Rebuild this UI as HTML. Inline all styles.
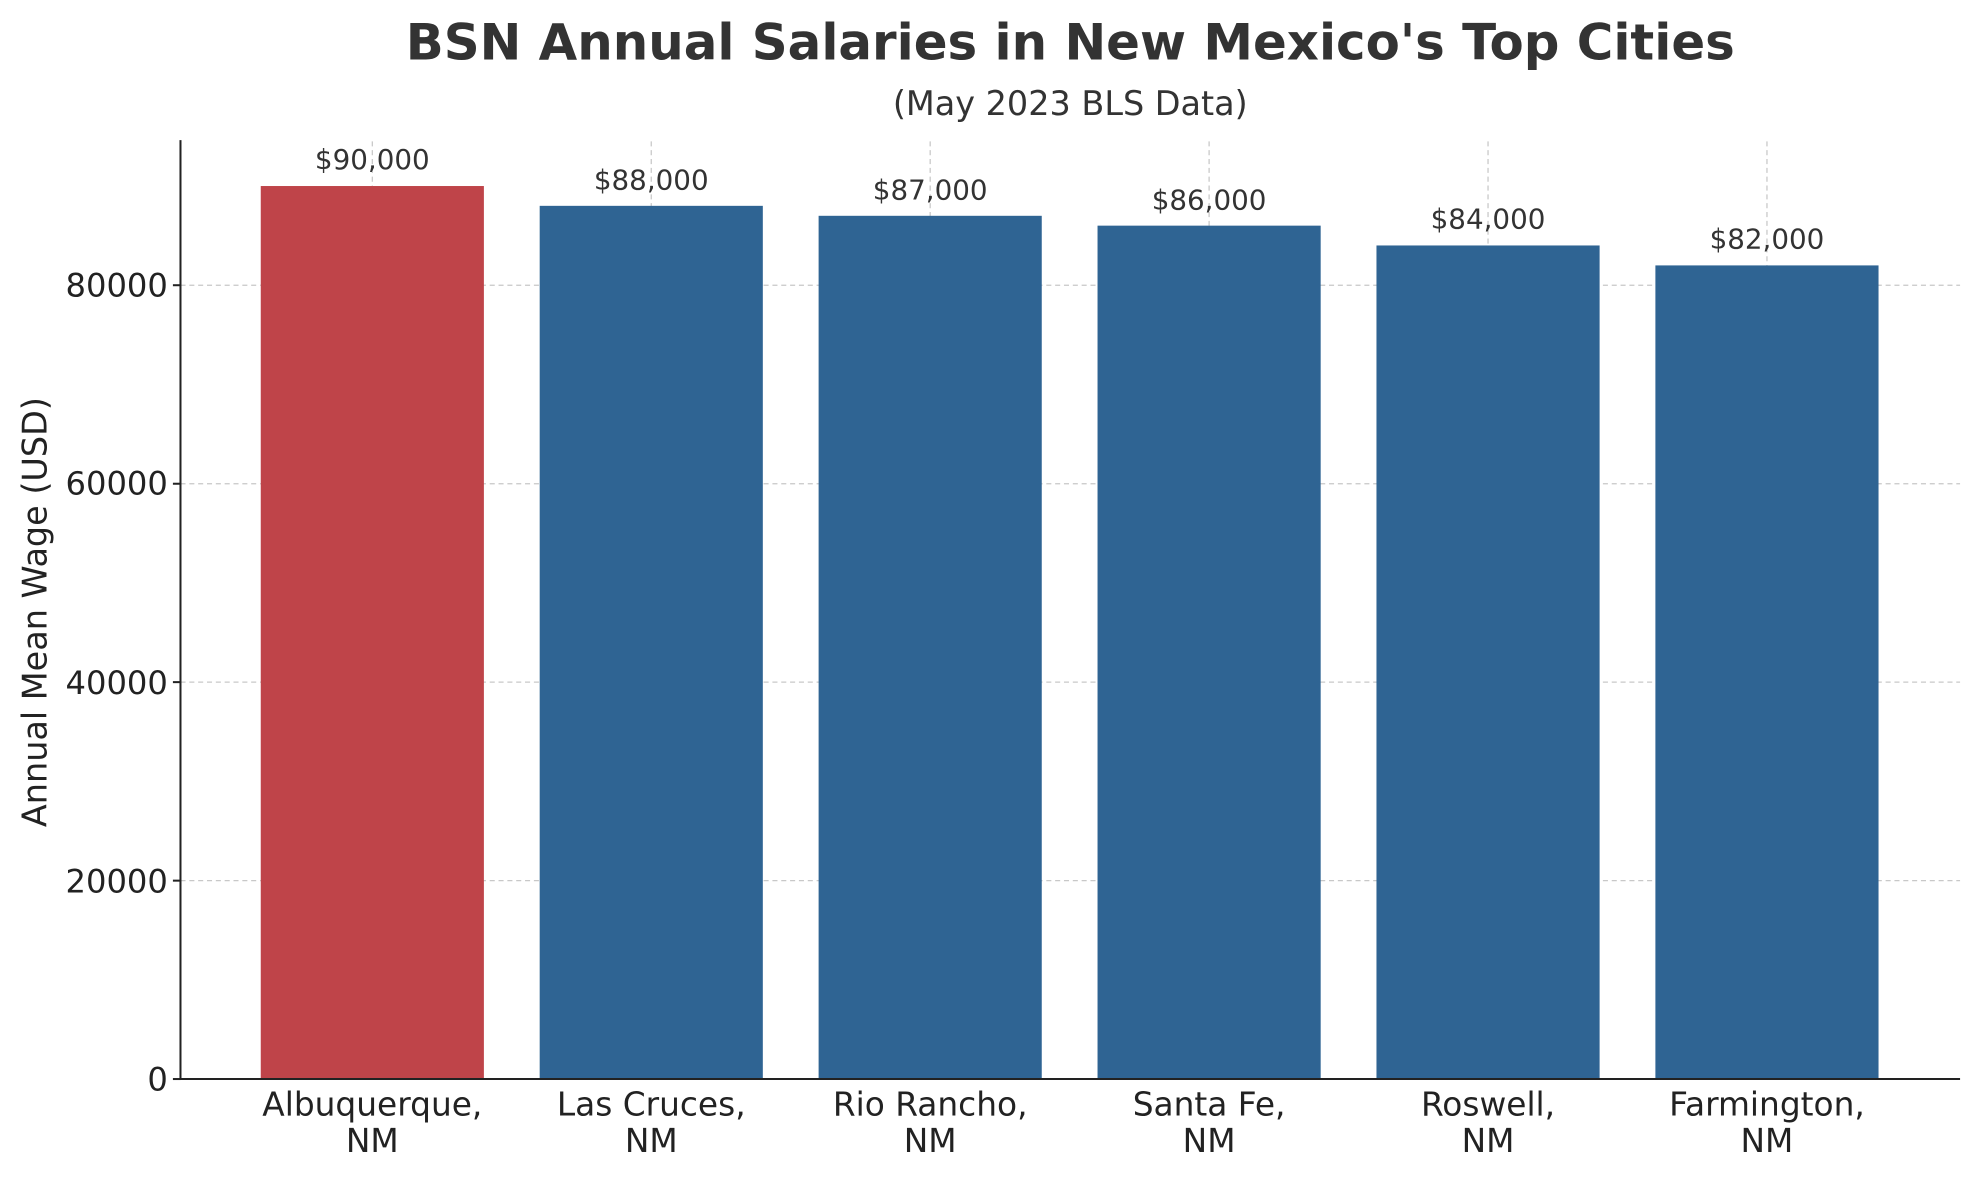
<!DOCTYPE html>
<html><head><meta charset="utf-8"><style>html,body{margin:0;padding:0;background:#fff}svg{display:block}</style></head>
<body>
<svg width="1979" height="1180" viewBox="0 0 1568 935" preserveAspectRatio="none" xmlns="http://www.w3.org/2000/svg" font-family="DejaVu Sans, Liberation Sans, sans-serif">
<rect width="1568" height="935" fill="#fff"/>
<g stroke="#c8c8c8" stroke-width="1" stroke-dasharray="4,3">
<line x1="143" x2="1553" y1="226" y2="226"/>
<line x1="143" x2="1553" y1="383.3" y2="383.3"/>
<line x1="143" x2="1553" y1="540.5" y2="540.5"/>
<line x1="143" x2="1553" y1="697.8" y2="697.8"/>
<line x1="295" x2="295" y1="112" y2="855"/>
<line x1="516" x2="516" y1="112" y2="855"/>
<line x1="737" x2="737" y1="112" y2="855"/>
<line x1="958" x2="958" y1="112" y2="855"/>
<line x1="1179" x2="1179" y1="112" y2="855"/>
<line x1="1400" x2="1400" y1="112" y2="855"/>
</g>
<rect x="206.6" y="147.4" width="176.8" height="707.6" fill="#bf4449"/>
<rect x="427.6" y="163.1" width="176.8" height="691.9" fill="#2f6493"/>
<rect x="648.6" y="171" width="176.8" height="684" fill="#2f6493"/>
<rect x="869.6" y="178.8" width="176.8" height="676.2" fill="#2f6493"/>
<rect x="1090.6" y="194.5" width="176.8" height="660.5" fill="#2f6493"/>
<rect x="1311.6" y="210.3" width="176.8" height="644.7" fill="#2f6493"/>
<g fill="#333" font-size="22" text-anchor="middle">
<text x="295" y="134">$90,000</text>
<text x="516" y="150">$88,000</text>
<text x="737" y="158">$87,000</text>
<text x="958" y="166">$86,000</text>
<text x="1179" y="181">$84,000</text>
<text x="1400" y="197">$82,000</text>
</g>
<line x1="143" x2="143" y1="111" y2="855.5" stroke="#222" stroke-width="1.6"/>
<line x1="142" x2="1553" y1="855" y2="855" stroke="#222" stroke-width="1.6"/>
<g stroke="#222" stroke-width="1.6">
<line x1="137" x2="143" y1="855" y2="855"/><line x1="137" x2="143" y1="697.8" y2="697.8"/>
<line x1="137" x2="143" y1="540.5" y2="540.5"/><line x1="137" x2="143" y1="383.3" y2="383.3"/>
<line x1="137" x2="143" y1="226" y2="226"/>
</g>
<g fill="#222" font-size="25.5" text-anchor="end">
<text x="133" y="864">0</text>
<text x="133" y="707">20000</text>
<text x="133" y="550">40000</text>
<text x="133" y="392">60000</text>
<text x="133" y="235">80000</text>
</g>
<g fill="#222" font-size="26" text-anchor="middle">
<text x="295" y="884">Albuquerque,</text><text x="295" y="913">NM</text>
<text x="516" y="884">Las Cruces,</text><text x="516" y="913">NM</text>
<text x="737" y="884">Rio Rancho,</text><text x="737" y="913">NM</text>
<text x="958" y="884">Santa Fe,</text><text x="958" y="913">NM</text>
<text x="1179" y="884">Roswell,</text><text x="1179" y="913">NM</text>
<text x="1400" y="884">Farmington,</text><text x="1400" y="913">NM</text>
</g>
<text transform="translate(37,485) rotate(-90)" fill="#222" font-size="26.5" text-anchor="middle">Annual Mean Wage (USD)</text>
<text x="848" y="47" fill="#333" font-size="39.5" font-weight="bold" text-anchor="middle">BSN Annual Salaries in New Mexico's Top Cities</text>
<text x="848" y="91" fill="#333" font-size="26.5" text-anchor="middle">(May 2023 BLS Data)</text>
</svg>
</body></html>
